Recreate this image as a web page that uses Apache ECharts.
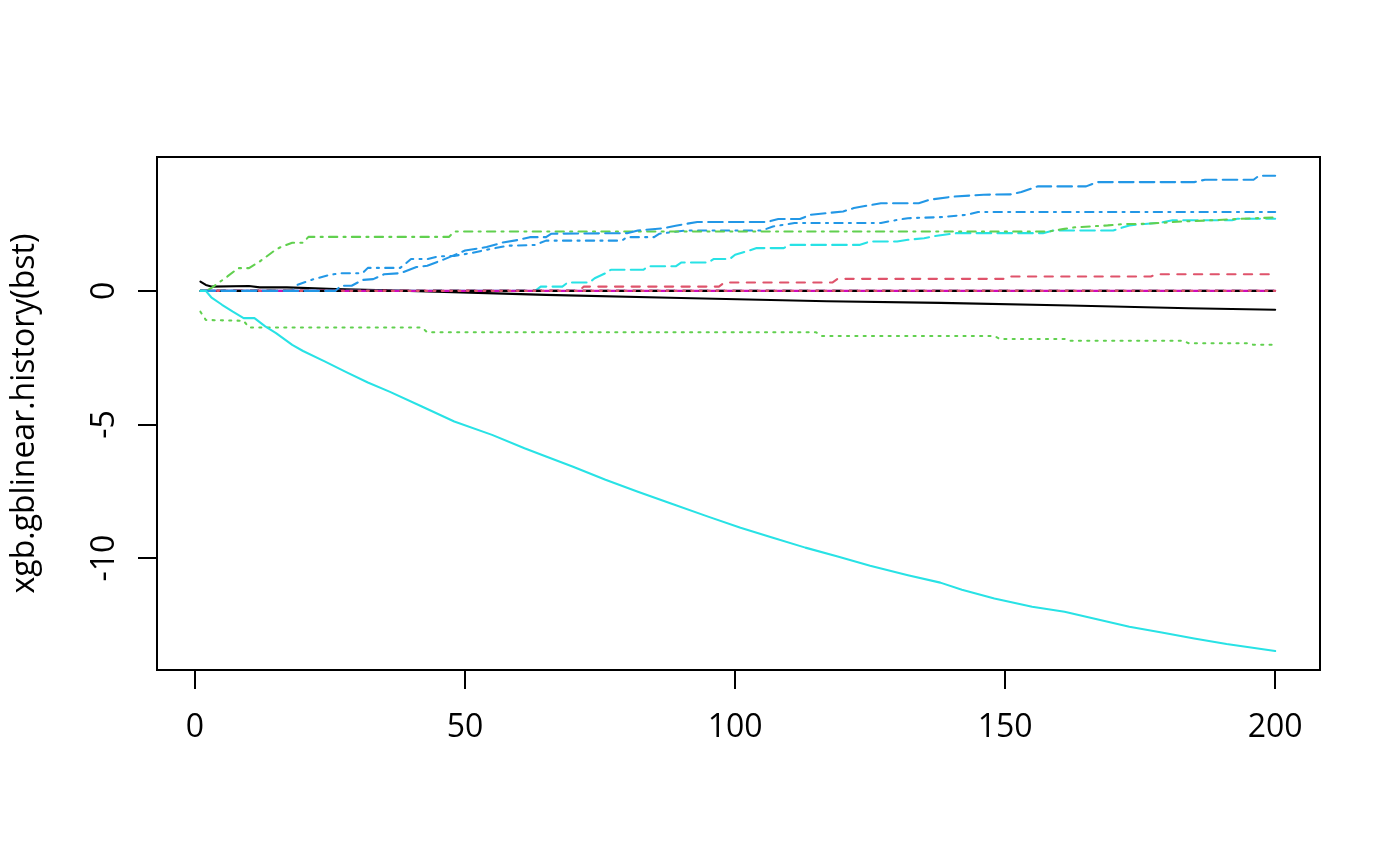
<!DOCTYPE html>
<html>
<head>
<meta charset="utf-8">
<script src="https://cdn.jsdelivr.net/npm/echarts@6/dist/echarts.min.js"></script>
<style>
html,body{margin:0;padding:0;background:#fff;}
#chart{width:1400px;height:866px;}
</style>
</head>
<body>
<div id="chart"></div>
<script>
// [iteration, coefficient] pairs
const coef1 = [[1,0.35],[2,0.22],[3,0.16],[10,0.18],[12,0.13],[17,0.13],[26,0.07],[43,-0.02],[65,-0.15],[90,-0.27],[117,-0.39],[138,-0.45],[162,-0.55],[184,-0.65],[200,-0.71]];
const coef2 = [[1,0],[71,0],[72,0.16],[97,0.16],[98,0.31],[118,0.31],[119,0.45],[150,0.45],[151,0.54],[177,0.54],[178,0.62],[200,0.62]];
const coef3 = [[1,-0.78],[2,-1.09],[9,-1.12],[10,-1.37],[42,-1.37],[43,-1.55],[115,-1.55],[116,-1.69],[148,-1.69],[149,-1.80],[161,-1.80],[162,-1.87],[183,-1.87],[184,-1.96],[195,-1.96],[196,-2.02],[200,-2.02]];
const coef4 = [[1,0],[18,0],[19,0.23],[22,0.44],[25,0.60],[27,0.66],[31,0.66],[32,0.86],[38,0.86],[40,1.19],[43,1.19],[45,1.29],[48,1.31],[51,1.41],[54,1.54],[58,1.69],[63,1.72],[65,1.88],[79,1.88],[80,2.01],[85,2.01],[86,2.14],[91,2.26],[105,2.26],[107,2.41],[111,2.54],[127,2.54],[129,2.62],[132,2.72],[138,2.76],[143,2.85],[145,2.95],[200,2.95]];
const coef5 = [[1,0],[63,0],[64,0.16],[68,0.16],[69,0.31],[73,0.31],[74,0.47],[76,0.66],[77,0.79],[83,0.79],[84,0.92],[89,0.92],[90,1.06],[95,1.06],[96,1.19],[99,1.19],[100,1.35],[102,1.47],[104,1.60],[109,1.60],[110,1.72],[123,1.72],[125,1.85],[130,1.85],[132,1.91],[135,1.97],[137,2.05],[141,2.16],[157,2.16],[159,2.26],[170,2.26],[173,2.45],[179,2.56],[181,2.64],[192,2.64],[193,2.70],[200,2.70]];
const coef6 = [[1,0],[200,0]];
const coef7 = [[1,0],[200,0]];
const coef8 = [[1,0],[200,0]];
const coef9 = [[1,0],[2,0],[3,0.10],[6,0.54],[8,0.85],[10,0.85],[12,1.10],[15,1.55],[16,1.65],[18,1.80],[20,1.80],[21,2.02],[47,2.02],[48,2.22],[158,2.22],[161,2.32],[163,2.38],[169,2.45],[172,2.50],[176,2.51],[183,2.60],[187,2.63],[193,2.69],[200,2.75]];
const coef10 = [[1,0],[26,0],[27,0.19],[29,0.19],[31,0.41],[33,0.44],[35,0.62],[38,0.66],[41,0.89],[43,0.94],[46,1.17],[50,1.51],[54,1.64],[57,1.81],[60,1.91],[62,2.01],[65,2.01],[66,2.14],[80,2.16],[82,2.26],[87,2.35],[89,2.44],[93,2.58],[106,2.58],[108,2.69],[112,2.69],[114,2.85],[117,2.91],[120,2.97],[122,3.10],[127,3.28],[134,3.28],[136,3.41],[140,3.52],[146,3.60],[151,3.61],[153,3.70],[156,3.91],[165,3.91],[167,4.07],[185,4.07],[187,4.16],[196,4.16],[197,4.31],[200,4.31]];
const coef11 = [[1,0],[2,0],[3,-0.24],[5,-0.52],[7,-0.78],[9,-1.02],[11,-1.02],[13,-1.33],[15,-1.58],[18,-2.02],[20,-2.25],[24,-2.64],[28,-3.04],[32,-3.43],[36,-3.77],[42,-4.33],[48,-4.89],[55,-5.39],[61,-5.89],[65,-6.20],[70,-6.58],[76,-7.07],[82,-7.52],[88,-7.95],[95,-8.45],[101,-8.87],[107,-9.24],[113,-9.61],[119,-9.94],[125,-10.29],[132,-10.64],[138,-10.92],[142,-11.19],[148,-11.51],[155,-11.82],[161,-12.01],[167,-12.29],[173,-12.57],[179,-12.79],[185,-13.01],[191,-13.22],[200,-13.48]];

const xTicks = [0, 50, 100, 150, 200];
const yTicks = [-10, -5, 0];
const yTitle = 'xgb.gblinear.history(bst)';

const palette = ['#000000', '#DF536B', '#61D04F', '#2297E6', '#28E2E5', '#CD0BBC'];
const u = 2.08;
const dashes = {
  solid: 'solid',
  dashed: [4*u, 4*u],
  dotted: [1*u, 3*u],
  dotdash: [1*u, 3*u, 4*u, 3*u],
  longdash: [7*u, 3*u]
};
const ltyCycle = ['solid', 'dashed', 'dotted', 'dotdash', 'longdash'];
const allCoefs = [coef1, coef2, coef3, coef4, coef5, coef6, coef7, coef8, coef9, coef10, coef11];

const series = allCoefs.map((d, i) => ({
  type: 'line',
  name: 'V' + (i + 1),
  data: d,
  showSymbol: false,
  symbol: 'none',
  smooth: false,
  lineStyle: {
    color: palette[i % 6],
    width: u,
    type: dashes[ltyCycle[i % 5]],
    cap: 'round',
    join: 'round'
  },
  z: 2 + i,
  silent: true
}));

const font = 'Open Sans';
const fs = 32;
const chart = echarts.init(document.getElementById('chart'), null, {renderer: 'canvas'});
chart.setOption({
  animation: false,
  backgroundColor: '#ffffff',
  grid: {
    left: 157, right: 80, top: 157, bottom: 196,
    show: true, borderColor: '#000', borderWidth: 2, backgroundColor: 'transparent'
  },
  xAxis: {
    type: 'value', min: -7.04, max: 208.3,
    axisLine: {show: true, onZero: false, lineStyle: {color: '#000', width: 2}},
    axisTick: {show: true, inside: false, length: 19, lineStyle: {color: '#000', width: 2}, customValues: xTicks},
    axisLabel: {show: true, customValues: xTicks, margin: 42, color: '#000', fontFamily: font, fontSize: fs},
    splitLine: {show: false}
  },
  yAxis: {
    type: 'value', min: -14.19, max: 5.01,
    name: yTitle, nameLocation: 'middle', nameRotate: 90, nameGap: 116,
    nameTextStyle: {color: '#000', fontFamily: font, fontSize: fs},
    axisLine: {show: true, onZero: false, lineStyle: {color: '#000', width: 2}},
    axisTick: {show: true, inside: false, length: 19, lineStyle: {color: '#000', width: 2}, customValues: yTicks},
    axisLabel: {show: true, customValues: yTicks, rotate: 90, margin: 36, color: '#000', fontFamily: font, fontSize: fs},
    splitLine: {show: false}
  },
  series: series
});
</script>
</body>
</html>
